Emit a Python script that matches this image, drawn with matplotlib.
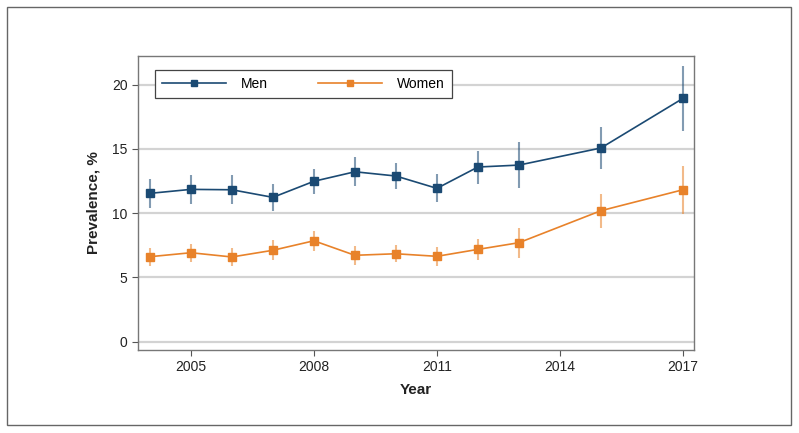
import matplotlib
matplotlib.use("Agg")
import matplotlib.pyplot as plt
from matplotlib.patches import Rectangle
import numpy as np

plt.rcParams['font.family'] = ['Liberation Sans', 'DejaVu Sans']

years = [2004, 2005, 2006, 2007, 2008, 2009, 2010, 2011, 2012, 2013, 2015, 2017]
men = [11.53, 11.84, 11.81, 11.22, 12.47, 13.21, 12.88, 11.92, 13.58, 13.73, 15.06, 18.92]
men_lo = [10.41, 10.68, 10.72, 10.16, 11.50, 12.12, 11.84, 10.83, 12.28, 11.97, 13.45, 16.38]
men_hi = [12.62, 12.98, 12.93, 12.26, 13.40, 14.33, 13.87, 13.00, 14.82, 15.50, 16.70, 21.44]
women = [6.60, 6.91, 6.58, 7.10, 7.84, 6.71, 6.83, 6.63, 7.17, 7.69, 10.18, 11.81]
women_lo = [5.85, 6.19, 5.85, 6.32, 7.07, 5.98, 6.19, 5.85, 6.37, 6.47, 8.86, 9.95]
women_hi = [7.28, 7.61, 7.26, 7.90, 8.60, 7.43, 7.49, 7.35, 8.00, 8.86, 11.45, 13.66]
xticks = [2005, 2008, 2011, 2014, 2017]
yticks = [0, 5, 10, 15, 20]

men_color = '#1b4a73'
women_color = '#e8822a'

fig = plt.figure(figsize=(7.99, 4.33), dpi=100)
ax = fig.add_axes([138/799, 1-350/433, (694-138)/799, (350-56)/433])

for vals, lo, hi, c, lab in [(men, men_lo, men_hi, men_color, 'Men'),
                             (women, women_lo, women_hi, women_color, 'Women')]:
    vals = np.array(vals); lo = np.array(lo); hi = np.array(hi)
    ax.errorbar(years, vals, yerr=[vals - lo, hi - vals], fmt='none',
                ecolor=c, alpha=0.55, elinewidth=1.5, capsize=0, zorder=2)
    ax.plot(years, vals, color=c, lw=1.2, marker='s', markersize=5.5,
            markeredgecolor=c, label=lab, zorder=3)

ax.set_xlim(2003.71, 2017.27)
ax.set_ylim(-0.66, 22.22)
ax.set_xticks(xticks)
ax.set_yticks(yticks)
ax.tick_params(axis='both', labelsize=10, color='#555555', length=4, width=0.8,
               labelcolor='#222222')
ax.yaxis.grid(True, color='#d3d3d3', lw=1.6, zorder=0)
ax.set_axisbelow(True)
for s in ax.spines.values():
    s.set_color('#777777')
    s.set_linewidth(1.0)

ax.set_xlabel('Year', fontsize=11, fontweight='bold', color='#222222', labelpad=6)
ax.set_ylabel('Prevalence, %', fontsize=11, fontweight='bold', color='#222222', labelpad=8)

leg = ax.legend(loc='upper left', bbox_to_anchor=(0.03, 0.952), ncol=2,
                fontsize=10, handlelength=4.6, columnspacing=3.6, handletextpad=1.1,
                fancybox=False, framealpha=1, edgecolor='#444444',
                borderpad=0.5, borderaxespad=0, markerscale=0.9)
leg.get_frame().set_linewidth(0.9)

fig.patches.append(Rectangle((7/799, 1-425/433), (791-7)/799, (425-7)/433,
                             transform=fig.transFigure, fill=False,
                             edgecolor='#666666', lw=1.0))

fig.savefig('out.png', dpi=100)
